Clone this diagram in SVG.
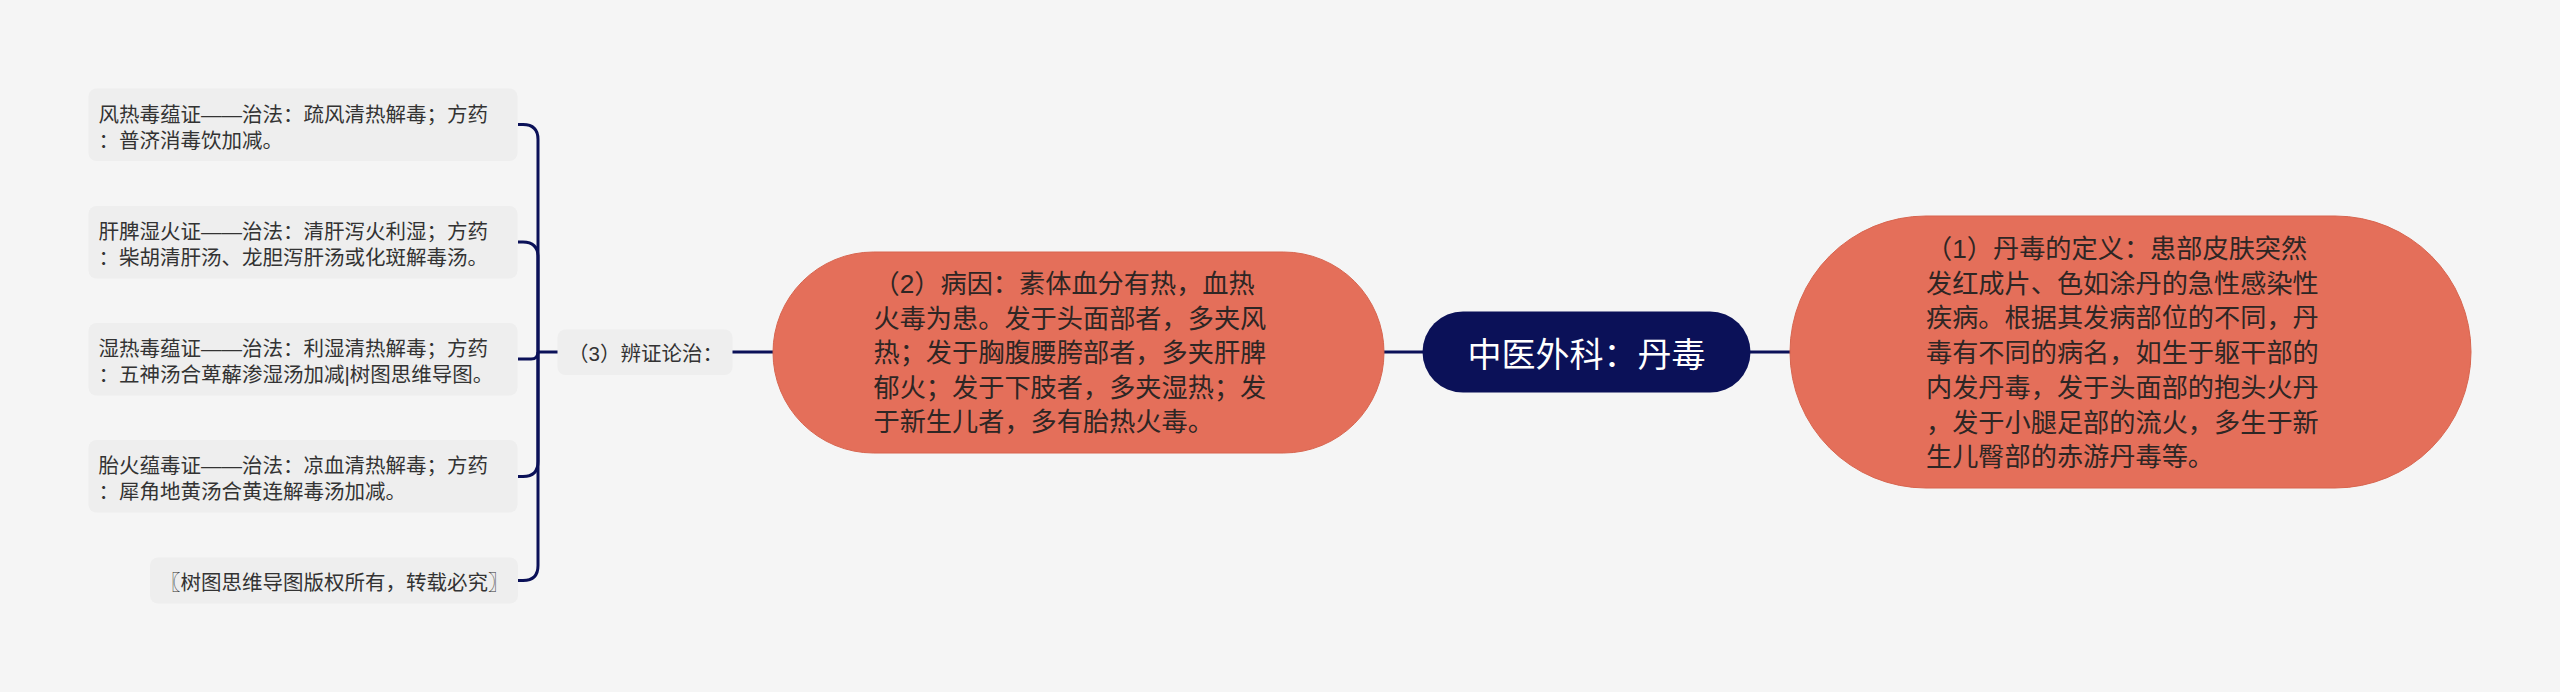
<svg xmlns="http://www.w3.org/2000/svg" width="2560" height="692" viewBox="0 0 2560 692">
<style>
text{font-family:"Liberation Sans","Noto Sans CJK SC",sans-serif}
.leaf{fill:#eeeeee}
.lt{font-size:20.5px;fill:#333333}
.pill{fill:#e46f5a;stroke:#d8654f;stroke-width:1}
.pt{font-size:26.2px;fill:#2e2624}
.conn{fill:none;stroke:#0b1158;stroke-width:3}
</style>
<rect x="0" y="0" width="2560" height="692" fill="#f5f5f5"/>
<g id="connectors">
<path class="conn" d="M538 352 L538 139.5 Q538 124.5 523 124.5 L518 124.5"/>
<path class="conn" d="M538 352 L538 257 Q538 242 523 242 L518 242"/>
<path class="conn" d="M538 352 Q538 359 531 359 L518 359"/>
<path class="conn" d="M538 352 L538 461.5 Q538 476.5 523 476.5 L518 476.5"/>
<path class="conn" d="M538 352 L538 565.5 Q538 580.5 523 580.5 L518 580.5"/>
<path class="conn" d="M538 352 L558 352"/>
<path class="conn" d="M732 352 L774 352"/>
<path class="conn" d="M1383 352 L1424 352"/>
<path class="conn" d="M1750 352 L1791 352"/>
</g>
<g id="root">
<rect x="1422.5" y="311.5" width="328" height="81" rx="40.5" fill="#0b1158"/>
<text x="1586.5" y="366.5" font-size="34" fill="#ffffff" text-anchor="middle">中医外科：丹毒</text>
</g>
<g id="node1">
<rect class="pill" x="1790" y="216" width="681" height="272" rx="136"/>
<text class="pt" x="1926"><tspan x="1926" y="258">（1）丹毒的定义：患部皮肤突然</tspan><tspan x="1926" y="292.7">发红成片、色如涂丹的急性感染性</tspan><tspan x="1926" y="327.4">疾病。根据其发病部位的不同，丹</tspan><tspan x="1926" y="362.1">毒有不同的病名，如生于躯干部的</tspan><tspan x="1926" y="396.8">内发丹毒，发于头面部的抱头火丹</tspan><tspan x="1926" y="431.5">，发于小腿足部的流火，多生于新</tspan><tspan x="1926" y="466.2">生儿臀部的赤游丹毒等。</tspan></text>
</g>
<g id="node2">
<rect class="pill" x="773" y="252" width="611" height="201" rx="100.5"/>
<text class="pt" x="873.5"><tspan x="873.5" y="293">（2）病因：素体血分有热，血热</tspan><tspan x="873.5" y="327.5">火毒为患。发于头面部者，多夹风</tspan><tspan x="873.5" y="362">热；发于胸腹腰胯部者，多夹肝脾</tspan><tspan x="873.5" y="396.5">郁火；发于下肢者，多夹湿热；发</tspan><tspan x="873.5" y="431">于新生儿者，多有胎热火毒。</tspan></text>
</g>
<g id="node3">
<rect class="leaf" x="557.5" y="329.5" width="175" height="45.5" rx="8"/>
<text class="lt" x="568" y="360.5">（3）辨证论治：</text>
</g>
<g id="leaf1">
<rect class="leaf" x="88.5" y="88.5" width="429" height="72.5" rx="8"/>
<text class="lt"><tspan x="98.5" y="121.5">风热毒蕴证——治法：疏风清热解毒；方药</tspan><tspan x="98.5" y="147.5">：普济消毒饮加减。</tspan></text>
</g>
<g id="leaf2">
<rect class="leaf" x="88.5" y="206" width="429" height="72.5" rx="8"/>
<text class="lt"><tspan x="98.5" y="239">肝脾湿火证——治法：清肝泻火利湿；方药</tspan><tspan x="98.5" y="265">：柴胡清肝汤、龙胆泻肝汤或化斑解毒汤。</tspan></text>
</g>
<g id="leaf3">
<rect class="leaf" x="88.5" y="323" width="429" height="72.5" rx="8"/>
<text class="lt"><tspan x="98.5" y="356">湿热毒蕴证——治法：利湿清热解毒；方药</tspan><tspan x="98.5" y="382">：五神汤合萆薢渗湿汤加减|树图思维导图。</tspan></text>
</g>
<g id="leaf4">
<rect class="leaf" x="88.5" y="440" width="429" height="72.5" rx="8"/>
<text class="lt"><tspan x="98.5" y="473">胎火蕴毒证——治法：凉血清热解毒；方药</tspan><tspan x="98.5" y="499">：犀角地黄汤合黄连解毒汤加减。</tspan></text>
</g>
<g id="leaf5">
<rect class="leaf" x="150" y="557.5" width="368" height="46" rx="8"/>
<text class="lt" x="160" y="589.5">〖树图思维导图版权所有，转载必究〗</text>
</g>
</svg>
